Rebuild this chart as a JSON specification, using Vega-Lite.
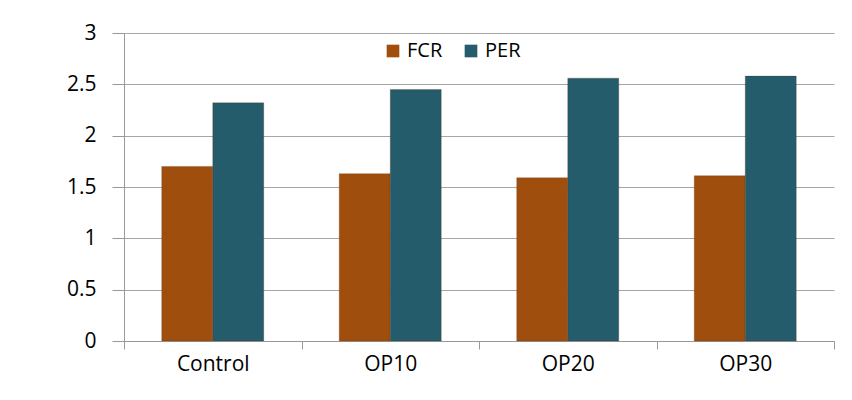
{
  "$schema": "https://vega.github.io/schema/vega-lite/v6.json",
  "width": 710,
  "height": 308,
  "autosize": "none",
  "padding": {"left": 124, "top": 33, "right": 18, "bottom": 59},
  "background": "white",
  "config": {"view": {"stroke": null}, "font": "Open Sans"},
  "data": {"values": [
    {"group": "Control", "series": "FCR", "value": 1.70},
    {"group": "Control", "series": "PER", "value": 2.32},
    {"group": "OP10", "series": "FCR", "value": 1.63},
    {"group": "OP10", "series": "PER", "value": 2.45},
    {"group": "OP20", "series": "FCR", "value": 1.59},
    {"group": "OP20", "series": "PER", "value": 2.56},
    {"group": "OP30", "series": "FCR", "value": 1.61},
    {"group": "OP30", "series": "PER", "value": 2.58}
  ]},
  "mark": {"type": "bar", "stroke": "#5a2a06", "strokeOpacity": 0.25, "strokeWidth": 1},
  "encoding": {
    "x": {
      "field": "group", "type": "nominal", "sort": null, "title": null,
      "scale": {"paddingInner": 0, "paddingOuter": 0},
      "axis": {
        "tickBand": "extent", "labelAngle": 0, "labelFontSize": 21, "labelColor": "#000000",
        "labelPadding": 4, "tickSize": 8, "tickColor": "#999999", "domainColor": "#999999",
        "grid": false, "labelFont": "Open Sans"
      }
    },
    "xOffset": {
      "field": "series", "type": "nominal",
      "scale": {"paddingInner": 0, "paddingOuter": 0.74}
    },
    "y": {
      "field": "value", "type": "quantitative", "title": null,
      "scale": {"domain": [0, 3], "nice": false},
      "axis": {
        "values": [0, 0.5, 1, 1.5, 2, 2.5, 3], "format": "~g", "labelFontSize": 21, "labelColor": "#000000",
        "labelPadding": 16, "tickSize": 12, "tickColor": "#999999", "domainColor": "#999999",
        "gridColor": "#a6a6a6", "labelFont": "Open Sans"
      }
    },
    "color": {
      "field": "series", "type": "nominal", "title": null,
      "scale": {"domain": ["FCR", "PER"], "range": ["#a04e0e", "#245c6b"]},
      "legend": {
        "orient": "none", "legendX": 259, "legendY": 8, "direction": "horizontal",
        "symbolType": "square", "symbolSize": 160, "symbolStrokeWidth": 0,
        "labelFontSize": 20, "labelColor": "#000000", "labelOffset": 4, "columnPadding": 18,
        "labelFont": "Open Sans"
      }
    }
  }
}
